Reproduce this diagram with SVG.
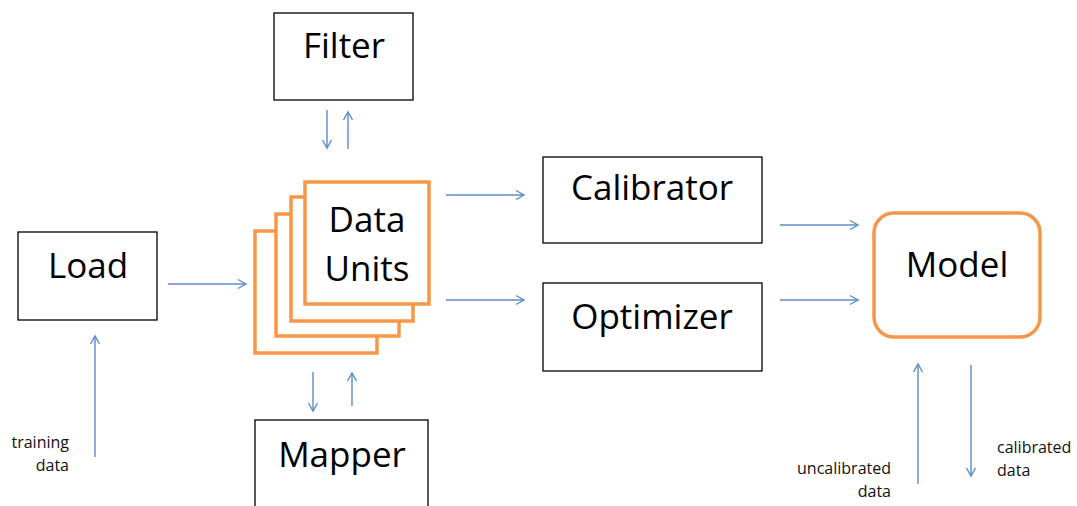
<svg xmlns="http://www.w3.org/2000/svg" width="1077" height="506" viewBox="0 0 1077 506">
<defs>
<marker id="ah" markerWidth="12" markerHeight="12" refX="10" refY="6" orient="auto" markerUnits="userSpaceOnUse">
<path d="M2,1.5 L10,6 L2,10.5" fill="none" stroke="#5B8CC8" stroke-width="1.4"/>
</marker>
<style>
.box{fill:#fff;stroke:#000;stroke-width:1.3}
.obox{fill:#fff;stroke:#F79646;stroke-width:3.5}
.big{font-family:"Open Sans","Liberation Sans",sans-serif;font-size:35px;fill:#000;text-anchor:middle}
.small{font-family:"Open Sans","Liberation Sans",sans-serif;font-size:16px;fill:#111}
.c{fill:none;stroke:#5B8CC8;stroke-width:1.4;marker-end:url(#ah)}
</style>
</defs>
<rect width="1077" height="506" fill="#fff"/>
<g id="filter"><rect class="box" x="274" y="13" width="139" height="87"/><text class="big" x="344" y="58">Filter</text></g>
<g id="load"><rect class="box" x="18" y="232" width="139" height="88"/><text class="big" x="88" y="278">Load</text></g>
<g id="calibrator"><rect class="box" x="543" y="157" width="219" height="86"/><text class="big" x="652" y="200">Calibrator</text></g>
<g id="optimizer"><rect class="box" x="543" y="283" width="219" height="88"/><text class="big" x="652" y="329">Optimizer</text></g>
<g id="mapper"><rect class="box" x="255" y="420" width="173" height="100"/><text class="big" x="342" y="467">Mapper</text></g>
<g id="model"><rect class="obox" x="874" y="213" width="166" height="124" rx="20"/><text class="big" x="957" y="277">Model</text></g>
<g id="data-units">
<rect class="obox" x="255" y="231" width="122" height="122"/>
<rect class="obox" x="276" y="214" width="123" height="122"/>
<rect class="obox" x="291" y="197" width="122" height="124"/>
<rect class="obox" x="305" y="182" width="124" height="122"/>
<text class="big" x="367" y="232">Data</text>
<text class="big" x="367" y="281">Units</text>
</g>
<g id="labels">
<text class="small" x="69" y="448" text-anchor="end">training</text>
<text class="small" x="69" y="471" text-anchor="end">data</text>
<text class="small" x="891" y="474" text-anchor="end">uncalibrated</text>
<text class="small" x="891" y="497" text-anchor="end">data</text>
<text class="small" x="997" y="453">calibrated</text>
<text class="small" x="997" y="476">data</text>
</g>
<g id="connectors">
<line class="c" x1="327" y1="110" x2="327" y2="148"/>
<line class="c" x1="348" y1="149" x2="348" y2="112"/>
<line class="c" x1="168" y1="284" x2="246" y2="284"/>
<line class="c" x1="446" y1="195" x2="524" y2="195"/>
<line class="c" x1="446" y1="300" x2="524" y2="300"/>
<line class="c" x1="780" y1="225" x2="858" y2="225"/>
<line class="c" x1="780" y1="300" x2="858" y2="300"/>
<line class="c" x1="313" y1="372" x2="313" y2="411"/>
<line class="c" x1="352" y1="406" x2="352" y2="373"/>
<line class="c" x1="95" y1="457" x2="95" y2="336"/>
<line class="c" x1="918" y1="484" x2="918" y2="364"/>
<line class="c" x1="971" y1="365" x2="971" y2="476"/>
</g>
</svg>
